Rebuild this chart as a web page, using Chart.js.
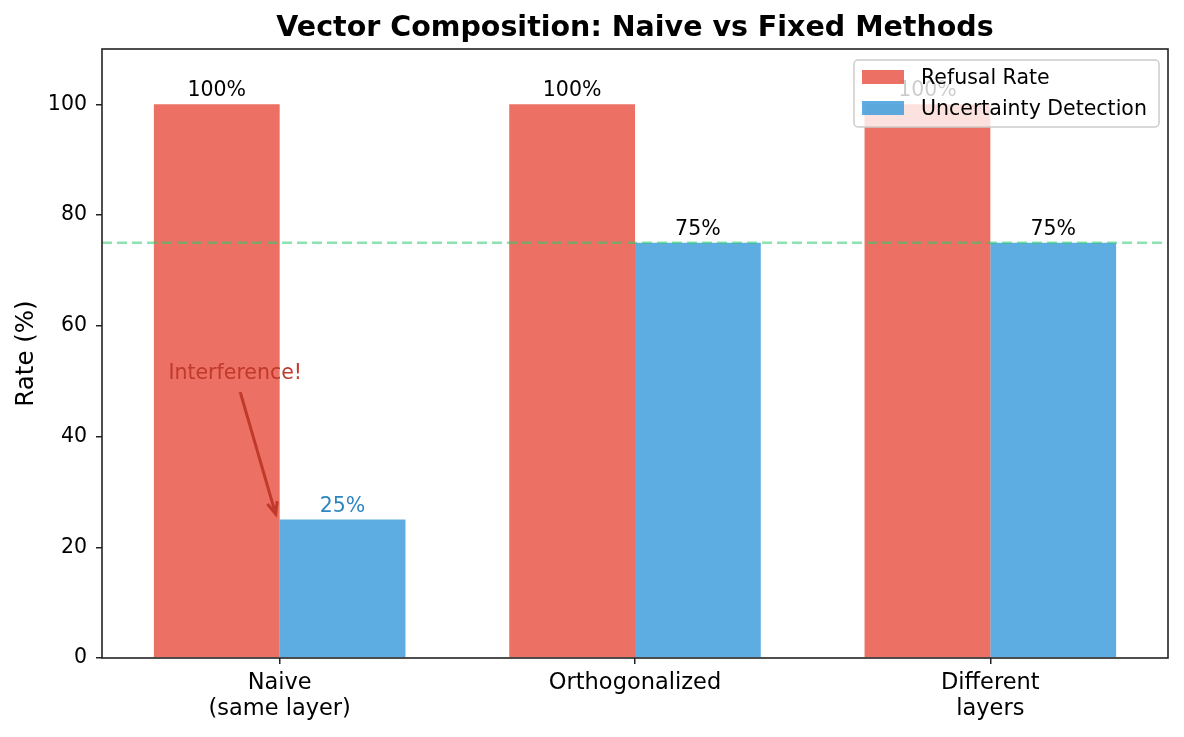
<html>
<head>
<script src="https://cdn.jsdelivr.net/npm/chart.js@4.4.0/dist/chart.umd.min.js"></script>
<style>
    body { margin: 0; background: #fff; }
    #wrap { width: 1184px; height: 737px; position: relative; }
</style>
</head>
<body>

<div id="wrap">
    <canvas id="compChart"></canvas>
</div>

<script>
    // chart data
    const methods = [['Naive', '(same layer)'], 'Orthogonalized', ['Different', 'layers']];
    const refusalRate = [100, 100, 100];
    const uncertaintyDetection = [25, 75, 75];
    const yTicks = [0, 20, 40, 60, 80, 100];
    const targetLine = 75;
    // annotation: arrow tip and text position, in (category, value)
    const annotTip = [0, 26];
    const annotText = [-0.125, 50];
    const annotLabel = 'Interference!';

    const FONT = 'DejaVu Sans';

    // pixel for a fractional category position
    function catPixel(xs, v) {
        let p0 = xs.getPixelForValue(0);
        let p1 = xs.getPixelForValue(1);
        return p0 + v * (p1 - p0);
    }

    const extras = {
        id: 'extras',
        afterDatasetsDraw(chart) {
            const ctx = chart.ctx;
            const xs = chart.scales.x, ys = chart.scales.y;
            const area = chart.chartArea;

            // value labels
            ctx.save();
            ctx.font = '20.5px "' + FONT + '"';
            ctx.textAlign = 'center';
            ctx.textBaseline = 'bottom';
            chart.data.datasets.forEach(function(ds, i) {
                chart.getDatasetMeta(i).data.forEach(function(bar, j) {
                    ctx.fillStyle = (i == 1 && j == 0) ? '#2e86c1' : '#000';
                    ctx.fillText(ds.data[j] + '%', bar.x, bar.y - 3);
                });
            });
            ctx.restore();

            // dashed reference line
            ctx.save();
            let yl = ys.getPixelForValue(targetLine);
            ctx.strokeStyle = 'rgba(46,204,113,0.55)';
            ctx.lineWidth = 2.5;
            ctx.setLineDash([10, 5]);
            ctx.beginPath();
            ctx.moveTo(area.left, yl);
            ctx.lineTo(area.right, yl);
            ctx.stroke();
            ctx.restore();

            // annotation
            ctx.save();
            let tx = catPixel(xs, annotText[0]);
            let ty = ys.getPixelForValue(annotText[1]);
            ctx.font = '20.5px "' + FONT + '"';
            ctx.fillStyle = '#c0392b';
            ctx.textAlign = 'center';
            ctx.textBaseline = 'bottom';
            ctx.fillText(annotLabel, tx, ty + 3);
            let ax = catPixel(xs, annotTip[0]) - 4;
            let ay = ys.getPixelForValue(annotTip[1]);
            let sx = tx + 5, sy = ty + 11;
            ctx.strokeStyle = '#c0392b';
            ctx.lineWidth = 3;
            ctx.beginPath();
            ctx.moveTo(sx, sy);
            ctx.lineTo(ax, ay);
            ctx.stroke();
            let ang = Math.atan2(ay - sy, ax - sx);
            ctx.beginPath();
            ctx.moveTo(ax - 13 * Math.cos(ang - 0.4), ay - 13 * Math.sin(ang - 0.4));
            ctx.lineTo(ax, ay);
            ctx.lineTo(ax - 13 * Math.cos(ang + 0.4), ay - 13 * Math.sin(ang + 0.4));
            ctx.stroke();
            ctx.restore();

            // frame
            ctx.save();
            ctx.strokeStyle = '#222';
            ctx.lineWidth = 1.6;
            ctx.strokeRect(area.left, area.top, area.right - area.left, area.bottom - area.top);
            ctx.restore();
        },
        afterDraw(chart) {
            const ctx = chart.ctx;
            const area = chart.chartArea;

            // title
            ctx.save();
            ctx.font = 'bold 28.5px "' + FONT + '"';
            ctx.fillStyle = '#000';
            ctx.textAlign = 'center';
            ctx.textBaseline = 'middle';
            ctx.fillText('Vector Composition: Naive vs Fixed Methods', (area.left + area.right) / 2, 29);
            ctx.restore();

            // legend box, top right
            ctx.save();
            let bw = 305, bh = 67;
            let bx = area.right - 9 - bw, by = area.top + 11;
            ctx.fillStyle = 'rgba(255,255,255,0.8)';
            ctx.strokeStyle = '#cccccc';
            ctx.lineWidth = 1.5;
            ctx.beginPath();
            ctx.roundRect(bx, by, bw, bh, 4);
            ctx.fill();
            ctx.stroke();
            ctx.font = '20.5px "' + FONT + '"';
            ctx.textBaseline = 'middle';
            chart.data.datasets.forEach(function(ds, i) {
                let ry = by + 17 + i * 31;
                ctx.fillStyle = ds.backgroundColor;
                ctx.fillRect(bx + 8, ry - 7, 42, 14);
                ctx.fillStyle = '#000';
                ctx.fillText(ds.label, bx + 67, ry + 1.5);
            });
            ctx.restore();
        }
    };

    var ctx = document.getElementById('compChart').getContext('2d');
    var chart = new Chart(ctx, {
        type: 'bar',
        data: {
            labels: methods,
            datasets: [{
                label: 'Refusal Rate',
                backgroundColor: 'rgba(231,76,60,0.8)',
                data: refusalRate,
                categoryPercentage: 0.708,
                barPercentage: 1.0
            }, {
                label: 'Uncertainty Detection',
                backgroundColor: 'rgba(52,152,219,0.8)',
                data: uncertaintyDetection,
                categoryPercentage: 0.708,
                barPercentage: 1.0
            }]
        },
        options: {
            responsive: true,
            maintainAspectRatio: false,
            animation: false,
            layout: { padding: { top: 49, right: 16, left: 0, bottom: 0 } },
            plugins: {
                legend: { display: false },
                tooltip: { enabled: false }
            },
            scales: {
                x: {
                    grid: { display: true, offset: false, drawOnChartArea: false, tickLength: 6, color: '#222', lineWidth: 1.5 },
                    border: { display: false },
                    ticks: { color: '#000', font: { family: FONT, size: 22.5, lineHeight: 1.15 }, padding: 6, maxRotation: 0 },
                    afterFit: function(s) { s.height = 79; }
                },
                y: {
                    min: 0,
                    max: 110,
                    afterBuildTicks: function(s) { s.ticks = yTicks.map(function(v) { return { value: v }; }); },
                    grid: { display: true, drawOnChartArea: false, tickLength: 6, color: '#222', lineWidth: 1.5 },
                    border: { display: false },
                    ticks: { color: '#000', font: { family: FONT, size: 20.5 }, padding: 9 },
                    title: { display: true, text: 'Rate (%)', color: '#000', font: { family: FONT, size: 24.5 }, padding: { top: 12, bottom: 0 } },
                    afterFit: function(s) { s.width = 102; }
                }
            }
        },
        plugins: [extras]
    });
</script>

</body>
</html>
